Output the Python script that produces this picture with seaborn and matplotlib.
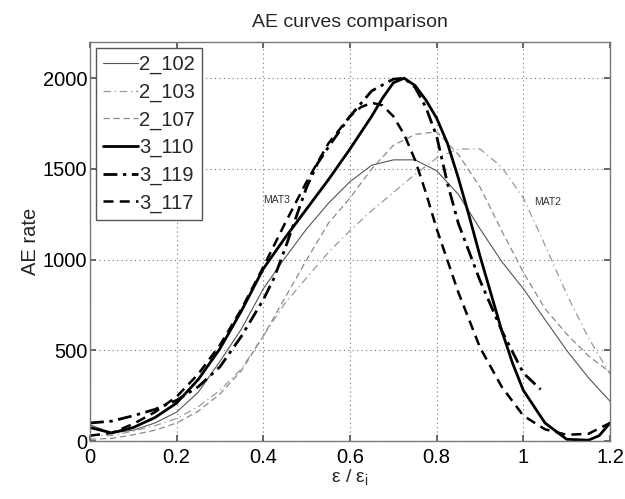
import numpy as np
import pandas as pd
import matplotlib
matplotlib.use('Agg')
import matplotlib.pyplot as plt
import seaborn as sns

#
# Data (strain ratio vs AE rate)
#

x_mat2 = [0.0, 0.05, 0.1, 0.15, 0.2, 0.25, 0.3, 0.35, 0.4, 0.45, 0.5, 0.55, 0.6,
          0.65, 0.7, 0.75, 0.8, 0.85, 0.9, 0.95, 1.0, 1.05, 1.1, 1.15, 1.2]

ae_2_102 = [90, 45, 60, 100, 160, 270, 440, 620, 840, 1010, 1170, 1310, 1430,
            1520, 1550, 1550, 1490, 1360, 1170, 990, 840, 670, 500, 350, 220]
ae_2_103 = [35, 30, 55, 85, 125, 190, 280, 400, 580, 760, 900, 1040, 1160,
            1270, 1370, 1470, 1560, 1610, 1610, 1510, 1340, 1080, 810, 570, 370]
ae_2_107 = [10, 15, 35, 60, 100, 165, 260, 390, 580, 790, 1000, 1200, 1340,
            1500, 1630, 1690, 1705, 1580, 1400, 1160, 930, 730, 590, 470, 380]

x_3_110 = [0.0, 0.05, 0.1, 0.15, 0.2, 0.25, 0.3, 0.35, 0.4, 0.45, 0.5, 0.55, 0.6,
           0.65, 0.675, 0.7, 0.725, 0.75, 0.775, 0.8, 0.825, 0.85, 0.875, 0.9,
           0.925, 0.95, 0.975, 1.0, 1.05, 1.1, 1.15, 1.175, 1.2]
ae_3_110 = [75, 45, 75, 130, 210, 340, 510, 720, 950, 1120, 1280, 1440, 1610,
            1790, 1890, 1975, 2000, 1960, 1880, 1780, 1640, 1450, 1240, 1020,
            815, 610, 430, 280, 100, 10, 5, 30, 100]

x_3_119 = [0.0, 0.05, 0.1, 0.15, 0.2, 0.25, 0.3, 0.35, 0.4, 0.425, 0.45, 0.475,
           0.5, 0.525, 0.55, 0.6, 0.65, 0.7, 0.725, 0.75, 0.775, 0.8, 0.825, 0.85,
           0.9, 0.95, 1.0, 1.04]
ae_3_119 = [100, 110, 140, 175, 225, 300, 410, 580, 780, 900, 1060, 1230,
            1400, 1530, 1620, 1790, 1930, 1995, 2000, 1950, 1840, 1680, 1420, 1200,
            885, 610, 375, 285]

x_3_117 = [0.0, 0.05, 0.1, 0.15, 0.2, 0.25, 0.3, 0.35, 0.4, 0.45, 0.5, 0.55, 0.6,
           0.625, 0.65, 0.675, 0.7, 0.725, 0.75, 0.775, 0.8, 0.85, 0.9, 0.95, 1.0,
           1.05, 1.1, 1.15, 1.2]
ae_3_117 = [30, 45, 95, 160, 245, 370, 530, 730, 960, 1200, 1430, 1640, 1790,
            1840, 1865, 1850, 1790, 1690, 1550, 1370, 1170, 820, 516, 300, 140,
            65, 35, 40, 100]

labels = ['2_102', '2_103', '2_107', '3_110', '3_119', '3_117']
xs = [x_mat2, x_mat2, x_mat2, x_3_110, x_3_119, x_3_117]
ys = [ae_2_102, ae_2_103, ae_2_107, ae_3_110, ae_3_119, ae_3_117]

styles = {'2_102': dict(color='#555555', lw=0.8, ls='-'),
          '2_103': dict(color='#9a9a9a', lw=0.9, ls=(0, (6, 3, 1, 3))),
          '2_107': dict(color='#8a8a8a', lw=0.9, ls=(0, (5, 3))),
          '3_110': dict(color='black', lw=2.0, ls='-'),
          '3_119': dict(color='black', lw=2.0, ls=(0, (5, 2, 1.2, 2))),
          '3_117': dict(color='black', lw=1.8, ls=(0, (4, 2.5))),
          }

frames = [pd.DataFrame({'strain': x, 'ae': y, 'curve': lab})
          for lab, x, y in zip(labels, xs, ys)]
long = pd.concat(frames, ignore_index=True)

#
# Plot
#

sns.set_theme(style='white')
plt.rcParams['font.family'] = ['Liberation Sans', 'DejaVu Sans']

fig = plt.figure(figsize=(6.25, 4.99), dpi=100)
ax = fig.add_axes([0.144, 0.116, 0.832, 0.800])

for lab in labels:
    st = styles[lab]
    sns.lineplot(data=long[long['curve'] == lab], x='strain', y='ae', ax=ax,
                 color=st['color'], linewidth=st['lw'], label=lab, sort=False)
    ax.lines[-1].set_linestyle(st['ls'])

ax.set_xlim(0, 1.2)
ax.set_ylim(0, 2200)
ax.set_xticks([0, 0.2, 0.4, 0.6, 0.8, 1.0, 1.2])
ax.set_xticklabels(['0', '0.2', '0.4', '0.6', '0.8', '1', '1.2'])
ax.set_yticks([0, 500, 1000, 1500, 2000])
ax.tick_params(direction='in', length=4, labelsize=14.5, top=True, right=True,
               bottom=True, left=True, colors='#555555', labelcolor='black', pad=2)
ax.tick_params(axis='x', pad=5)
ax.grid(True, linestyle=(0, (1, 3)), color='#777777', linewidth=0.8)
for sp in ax.spines.values():
    sp.set_color('#777777')
    sp.set_linewidth(1.0)

ax.set_xlabel(r'$\mathregular{\epsilon}$ / $\mathregular{\epsilon_i}$', fontsize=14, labelpad=0)
ax.set_ylabel('AE rate', fontsize=14.5, labelpad=2)
ax.set_title('AE curves comparison', fontsize=14, pad=11)

ax.text(0.43, 1330, 'MAT3', fontsize=7.5, ha='center', va='center', color='#333333')
ax.text(1.055, 1320, 'MAT2', fontsize=7.5, ha='center', va='center', color='#333333')

leg = ax.legend(loc='upper left', fontsize=14.5, handlelength=1.75, handletextpad=0.05,
                borderpad=0.35, labelspacing=0.42, borderaxespad=0.3, fancybox=False,
                framealpha=1, edgecolor='#555555')
for h, lab in zip(leg.get_lines(), labels):
    h.set_linestyle(styles[lab]['ls'])
    h.set_linewidth(styles[lab]['lw'])

plt.savefig('out.png', dpi=100)
